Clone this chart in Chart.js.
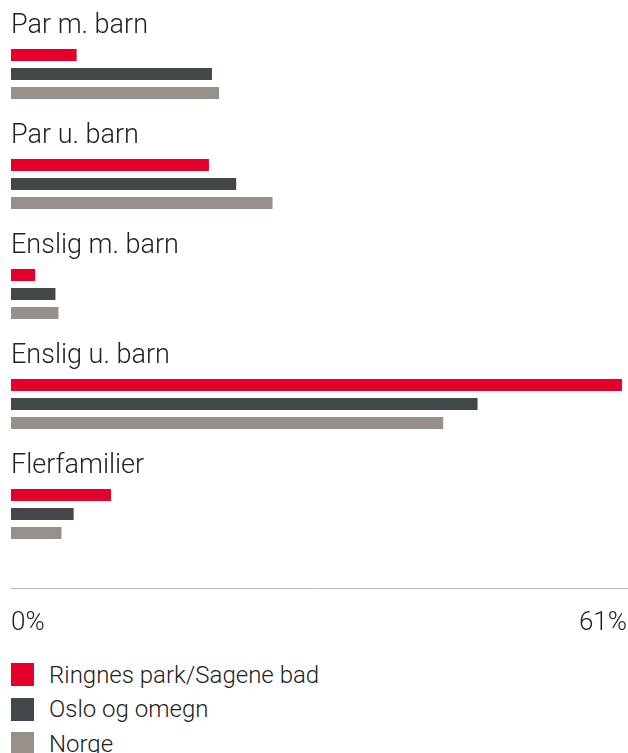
<!DOCTYPE html>
<html>
<head>
<meta charset="utf-8">
<script src="https://cdn.jsdelivr.net/npm/chart.js@4.4.0/dist/chart.umd.min.js"></script>
<style>
  html, body { margin: 0; padding: 0; background: #fff; }
  body { width: 628px; height: 753px; overflow: hidden; position: relative; font-family: Roboto, "Noto Sans", sans-serif; }
  .chart-box { position: absolute; left: 0; top: 0; width: 628px; height: 648px; }
  #legend { position: absolute; left: 11px; top: 663px; }
  .leg-item { display: flex; align-items: center; height: 23px; margin-bottom: 11.5px; font-size: 24px; font-weight: 300; color: #222; }
  .leg-box { width: 23px; height: 23px; margin-right: 15px; flex: none; }
</style>
</head>
<body>
<div class="chart-box"><canvas id="chart"></canvas></div>
<div id="legend"></div>
<script>
// kategorier og verdier (prosent)
const categories = ["Par m. barn", "Par u. barn", "Enslig m. barn", "Enslig u. barn", "Flerfamilier"];
const seriesNames = ["Ringnes park/Sagene bad", "Oslo og omegn", "Norge"];
const ringnes = [6.5, 19.6, 2.4, 60.5, 9.9];
const oslo = [19.9, 22.3, 4.4, 46.2, 6.2];
const norge = [20.6, 25.9, 4.7, 42.8, 5.0];
const axisMax = 61;
const tickValues = [0, 61];
const colors = ["#e4002b", "#42474a", "#978f8a"];

const toPoints = arr => arr.map((v, i) => ({ x: v, y: i }));

// kategoritekst over hver gruppe
const categoryLabels = {
  id: "categoryLabels",
  afterDatasetsDraw(chart) {
    const ctx = chart.ctx;
    const y = chart.scales.y;
    ctx.save();
    ctx.font = "300 27px Roboto";
    ctx.fillStyle = "#222";
    ctx.textAlign = "left";
    ctx.textBaseline = "alphabetic";
    categories.forEach((c, i) => {
      ctx.fillText(c, 11, y.getPixelForValue(i) - 41);
    });
    ctx.restore();
  }
};

const chart = new Chart(document.getElementById("chart"), {
  type: "bar",
  data: {
    datasets: [
      { label: seriesNames[0], data: toPoints(ringnes), backgroundColor: colors[0] },
      { label: seriesNames[1], data: toPoints(oslo), backgroundColor: colors[1] },
      { label: seriesNames[2], data: toPoints(norge), backgroundColor: colors[2] }
    ]
  },
  options: {
    indexAxis: "y",
    responsive: true,
    maintainAspectRatio: false,
    animation: false,
    categoryPercentage: 0.518,
    barPercentage: 0.63,
    layout: { padding: { left: 11, right: 1, top: 0, bottom: 0 } },
    scales: {
      y: {
        type: "linear",
        reverse: true,
        offset: false,
        min: -0.673,
        max: 4.673,
        display: false,
        // ett tick per kategori, ellers blir søylene for tynne
        afterBuildTicks: s => { s.ticks = categories.map((c, i) => ({ value: i })); }
      },
      x: {
        min: 0,
        max: axisMax,
        grid: { display: false, drawTicks: false },
        border: { display: true, color: "#b8b8b8", width: 1 },
        afterBuildTicks: s => { s.ticks = tickValues.map(v => ({ value: v })); },
        afterFit: s => { s.height = 60; },
        ticks: {
          align: "inner",
          padding: 0,
          color: "#222",
          font: { family: "Roboto", size: 26, weight: 300, lineHeight: 2.72 },
          callback: v => v + "%"
        }
      }
    },
    plugins: {
      legend: { display: false },
      tooltip: { enabled: false }
    }
  },
  plugins: [categoryLabels]
});

// egen legende under diagrammet
const legendEl = document.getElementById("legend");
chart.data.datasets.forEach(ds => {
  const item = document.createElement("div");
  item.className = "leg-item";
  const box = document.createElement("span");
  box.className = "leg-box";
  box.style.background = ds.backgroundColor;
  const txt = document.createElement("span");
  txt.textContent = ds.label;
  item.appendChild(box);
  item.appendChild(txt);
  legendEl.appendChild(item);
});
</script>
</body>
</html>
